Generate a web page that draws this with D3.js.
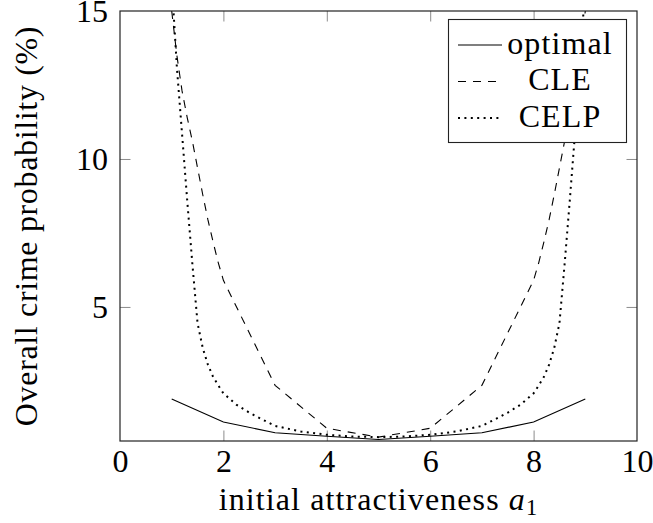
<!DOCTYPE html>
<html>
<head>
<meta charset="utf-8">
<script src="https://cdn.jsdelivr.net/npm/d3@7/dist/d3.min.js"></script>
<style>
  html, body { margin: 0; padding: 0; background: #fff; }
  svg { display: block; }
  text { font-family: "Liberation Serif", "Times New Roman", serif; fill: #000; }
</style>
</head>
<body>
<svg id="chart" width="653" height="523"></svg>
<script>
// ---- data ----
const xTicks = [0, 2, 4, 6, 8, 10];
const yTicks = [5, 10, 15];

const optimalX = [1, 2, 3, 4, 5, 6, 7, 8, 9];
const optimalY = [1.89, 1.11, 0.75, 0.63, 0.52, 0.63, 0.75, 1.11, 1.89];

const cleX = [1, 1.1, 1.2, 1.3, 1.4, 1.5, 1.6, 1.7, 1.8, 1.9, 2, 3, 4, 5, 6, 7, 8, 8.1, 8.2, 8.3, 8.4, 8.5, 8.6, 8.7, 8.8, 8.9, 9];
const cleY = [15.0, 13.5, 12.3, 11.4, 10.6, 9.7, 8.8, 7.95, 7.2, 6.5, 5.9, 2.35, 0.9, 0.6, 0.9, 2.35, 5.9, 6.5, 7.2, 7.95, 8.8, 9.7, 10.6, 11.4, 12.3, 13.5, 15.0];

const celpX = [1, 1.1, 1.2, 1.3, 1.4, 1.5, 1.6, 1.7, 1.8, 1.9, 2, 2.25, 2.5, 2.75, 3, 3.5, 4, 4.5, 5,
               5.5, 6, 6.5, 7, 7.25, 7.5, 7.75, 8, 8.1, 8.2, 8.3, 8.4, 8.5, 8.6, 8.7, 8.8, 8.9, 9];
const celpY = [16.0, 13.1, 10.85, 8.6, 6.45, 4.45, 3.62, 3.05, 2.64, 2.35, 2.08, 1.7, 1.43, 1.2, 0.98, 0.79, 0.68, 0.62, 0.6,
               0.62, 0.68, 0.79, 0.98, 1.2, 1.43, 1.7, 2.08, 2.35, 2.64, 3.05, 3.62, 4.45, 6.45, 8.6, 10.85, 13.1, 16.0];

const seriesNames = ["optimal", "CLE", "CELP"];
const seriesDash = ["none", "8,7", "2,4.4"];
const seriesWidth = [1.1, 1.1, 2];

// ---- layout ----
const svg = d3.select("#chart");
const L = 120, R = 637, T = 11, B = 441;
const FS = 32;
const LS = 1.1; // letter spacing for word labels

const x = d3.scaleLinear().domain([0, 10]).range([L, R]);
const y = d3.scaleLinear().domain([0.47, 15]).range([B, T]);

svg.append("defs").append("clipPath").attr("id", "clip")
  .append("rect").attr("x", L).attr("y", T).attr("width", R - L).attr("height", B - T);

const tickLen = 10.5;
function styleAxis(g) {
  g.select(".domain").remove();
  g.selectAll(".tick line").attr("stroke", "#8c8c8c").attr("stroke-width", 1);
  g.selectAll(".tick text").attr("font-size", FS).attr("font-family", "Liberation Serif");
}

const inner = v => v > 0 && v < 10;
svg.append("g").attr("transform", `translate(0,${B})`)
  .call(d3.axisBottom(x).tickValues(xTicks).tickSize(-tickLen).tickPadding(8).tickFormat(d3.format("d")))
  .call(styleAxis)
  .call(g => g.selectAll(".tick line").filter(d => !inner(d)).remove());
svg.append("g").attr("transform", `translate(0,${T})`)
  .call(d3.axisTop(x).tickValues(xTicks.filter(inner)).tickSize(-tickLen).tickFormat(""))
  .call(styleAxis);
svg.append("g").attr("transform", `translate(${L},0)`)
  .call(d3.axisLeft(y).tickValues(yTicks).tickSize(-tickLen).tickPadding(12).tickFormat(d3.format("d")))
  .call(styleAxis)
  .call(g => g.selectAll(".tick line").filter(d => d >= 15).remove());
svg.append("g").attr("transform", `translate(${R},0)`)
  .call(d3.axisRight(y).tickValues(yTicks.filter(d => d < 15)).tickSize(-tickLen).tickFormat(""))
  .call(styleAxis);

// ---- lines ----
const line = d3.line().x(d => x(d[0])).y(d => y(d[1]));
const allSeries = [
  d3.zip(optimalX, optimalY),
  d3.zip(cleX, cleY),
  d3.zip(celpX, celpY)
];
const plot = svg.append("g").attr("clip-path", "url(#clip)");
allSeries.forEach((pts, i) => {
  plot.append("path")
    .attr("d", line(pts))
    .attr("fill", "none")
    .attr("stroke", "#000")
    .attr("stroke-width", seriesWidth[i])
    .attr("stroke-dasharray", seriesDash[i]);
});

// ---- frame ----
svg.append("rect").attr("x", L).attr("y", T).attr("width", R - L).attr("height", B - T)
  .attr("fill", "none").attr("stroke", "#222").attr("stroke-width", 1.2);

// ---- legend ----
const lg = svg.append("g");
lg.append("rect").attr("x", 448.5).attr("y", 19.5).attr("width", 178).attr("height", 123)
  .attr("fill", "#fff").attr("stroke", "#222").attr("stroke-width", 1.1);
const rowsY = [45, 81.5, 118];
seriesNames.forEach((name, i) => {
  lg.append("line").attr("x1", 458).attr("x2", 502).attr("y1", rowsY[i]).attr("y2", rowsY[i])
    .attr("stroke", "#000").attr("stroke-width", seriesWidth[i])
    .attr("stroke-dasharray", seriesDash[i]);
  lg.append("text").attr("x", 560).attr("y", rowsY[i] + 8.5)
    .attr("text-anchor", "middle").attr("font-size", FS).attr("letter-spacing", LS).text(name);
});

// ---- axis labels ----
const xl = svg.append("text").attr("x", (L + R) / 2).attr("y", 510)
  .attr("text-anchor", "middle").attr("font-size", FS).attr("letter-spacing", LS);
xl.append("tspan").text("initial attractiveness ");
xl.append("tspan").attr("font-style", "italic").text("a");
xl.append("tspan").attr("font-size", FS * 0.7).attr("dy", 5).text("1");

svg.append("text")
  .attr("transform", `translate(37,${(T + B) / 2}) rotate(-90)`)
  .attr("text-anchor", "middle").attr("font-size", FS).attr("letter-spacing", LS * 0.6)
  .text("Overall crime probability (%)");
</script>
</body>
</html>
